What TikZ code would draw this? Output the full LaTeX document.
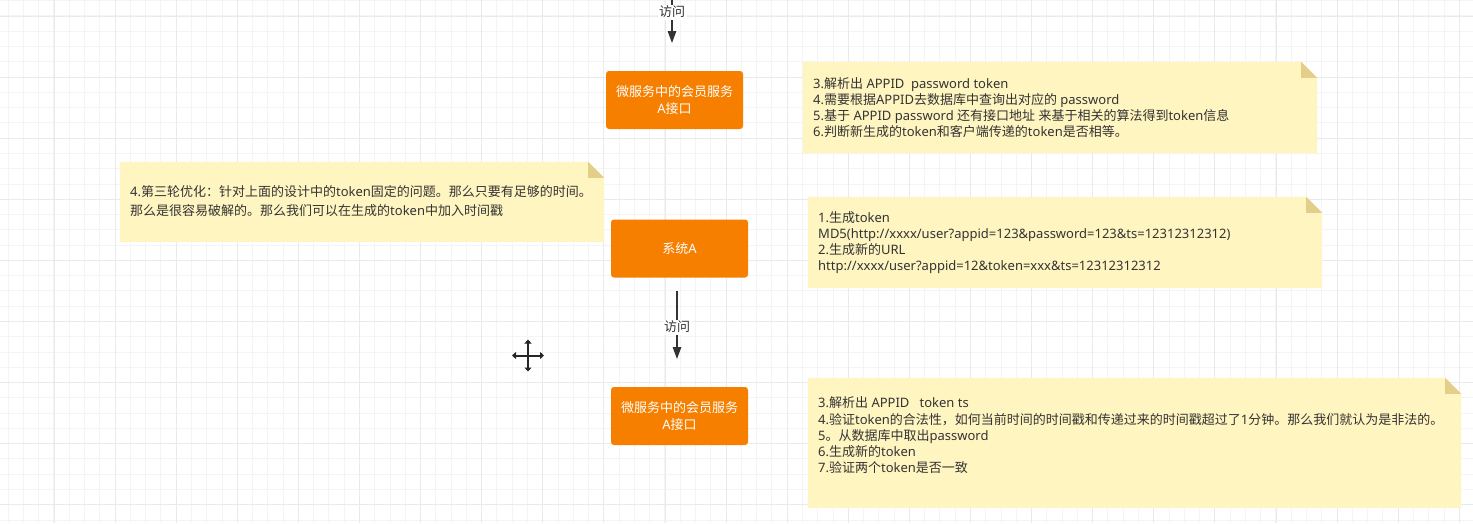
\documentclass[tikz,border=0pt]{standalone}
\usepackage{fontspec}
\setmainfont{Noto Sans}
\newfontfamily\cjkf{Noto Sans CJK SC}
\XeTeXinterchartokenstate=1
\newXeTeXintercharclass\CJKcls
\newcount\mycnt
\def\setcls#1#2{\mycnt=#1\relax\loop\XeTeXcharclass\mycnt=\CJKcls\relax\ifnum\mycnt<#2\advance\mycnt by 1\repeat}
\setcls{"3000}{"303F}
\setcls{"4E00}{"9FFF}
\setcls{"FF00}{"FFEF}
\XeTeXinterchartoks 0 \CJKcls = {\begingroup\cjkf}
\XeTeXinterchartoks 4095 \CJKcls = {\begingroup\cjkf}
\XeTeXinterchartoks \CJKcls 0 = {\endgroup}
\XeTeXinterchartoks \CJKcls 4095 = {\endgroup}
\usetikzlibrary{arrows.meta}
\definecolor{orng}{HTML}{F67F00}
\definecolor{notey}{HTML}{FFF5C1}
\definecolor{foldc}{HTML}{E4CF8A}
\definecolor{txt}{HTML}{333333}
\definecolor{gmin}{HTML}{F4F4F4}
\definecolor{gmaj}{HTML}{EAEAEA}
\newcommand\notedraw[1]{%
  \fill[notey] (#1.south west) -- (#1.north west) -- ([xshift=-16pt]#1.north east) -- ([yshift=-16pt]#1.north east) -- (#1.south east) -- cycle;
  \fill[foldc] ([xshift=-16pt]#1.north east) -- ([xshift=-16pt,yshift=-16pt]#1.north east) -- ([yshift=-16pt]#1.north east) -- cycle;}
\begin{document}
\begin{tikzpicture}[x=1pt,y=-1pt,
  box/.style={rectangle, rounded corners=3pt, fill=orng, text=white, minimum width=137pt, minimum height=58pt, inner sep=0pt, align=center, font=\fontsize{13}{16.6}\selectfont},
  notebg/.style={rectangle, inner sep=0pt, draw=none},
  notetext/.style={anchor=west, inner sep=0pt, align=left, text=txt, font=\fontsize{13}{16.2}\selectfont},
  conn/.style={draw=txt, line width=1.3pt, -{Triangle[length=12pt,width=8.5pt]}},
  lbl/.style={fill=white, inner sep=1.5pt, text=txt, font=\fontsize{13}{15}\selectfont},
  gminor/.style={draw=gmin, line width=1pt},
  gmajor/.style={draw=gmaj, line width=1pt},
  mover/.style={draw=black!85, line width=2pt, {Triangle[length=4pt,width=7pt]}-{Triangle[length=4pt,width=7pt]}}
]
\useasboundingbox (0,0) rectangle (1473,523);
\fill[white] (0,0) rectangle (1473,523);
% grid
\foreach \i in {0,...,96} \draw[gminor] ({8.16+15.275*\i},0) -- ({8.16+15.275*\i},523);
\foreach \i in {0,...,34} \draw[gminor] (0,{0.72+15.275*\i}) -- (1473,{0.72+15.275*\i});
\foreach \i in {1,...,24} \draw[gmajor] ({-7.1+61.1*\i},0) -- ({-7.1+61.1*\i},523);
\foreach \i in {0,...,8} \draw[gmajor] (0,{16+61.1*\i}) -- (1473,{16+61.1*\i});

% notes
\node[notebg, minimum width=514pt, minimum height=91pt] (n1) at (1060,107.5) {};
\notedraw{n1}
\node[notetext] (t1) at (813,107.5) {3.解析出 APPID\ \ password token\\4.需要根据APPID去数据库中查询出对应的 password\\5.基于 APPID password 还有接口地址 来基于相关的算法得到token信息\\6.判断新生成的token和客户端传递的token是否相等。};

\node[notebg, minimum width=484pt, minimum height=80pt] (n0) at (362,202) {};
\notedraw{n0}
\node[notetext, font=\fontsize{13}{19}\selectfont] (t0) at (130,200.7) {4.第三轮优化：针对上面的设计中的token固定的问题。那么只要有足够的时间。\\那么是很容易破解的。那么我们可以在生成的token中加入时间戳};

\node[notebg, minimum width=514pt, minimum height=91pt] (n2) at (1065,242.5) {};
\notedraw{n2}
\node[notetext] (t2) at (818,242.5) {1.生成token\\MD5(http://xxxx/user?appid=123\&password=123\&ts=12312312312)\\2.生成新的URL\\http://xxxx/user?appid=12\&token=xxx\&ts=12312312312};

\node[notebg, minimum width=653pt, minimum height=130pt] (n3) at (1134.5,443) {};
\notedraw{n3}
\node[notetext] (t3) at (818,435.3) {3.解析出 APPID\ \ \ token ts\\4.验证token的合法性，如何当前时间的时间戳和传递过来的时间戳超过了1分钟。那么我们就认为是非法的。\\5。从数据库中取出password\\6.生成新的token\\7.验证两个token是否一致};

% boxes
\node[box] (b1) at (674.5,100) {微服务中的会员服务\\A接口};
\node[box] (b2) at (679.5,248.5) {系统A};
\node[box] (b3) at (679.5,416) {微服务中的会员服务\\A接口};

% connectors
\coordinate (a0) at (672,0);
\coordinate (a1) at (672,43);
\draw[conn] (a0) -- node[lbl, pos=0.28] (l1) {访问} (a1);
\coordinate (c0) at (677,291);
\coordinate (c1) at (677,359);
\draw[conn] (c0) -- node[lbl, pos=0.53] (l2) {访问} (c1);

% move cursor
\coordinate (mv) at (528,355.5);
\draw[mover] ([xshift=-16pt]mv) -- ([xshift=16pt]mv);
\draw[mover] ([yshift=-16pt]mv) -- ([yshift=16pt]mv);
\end{tikzpicture}
\end{document}
